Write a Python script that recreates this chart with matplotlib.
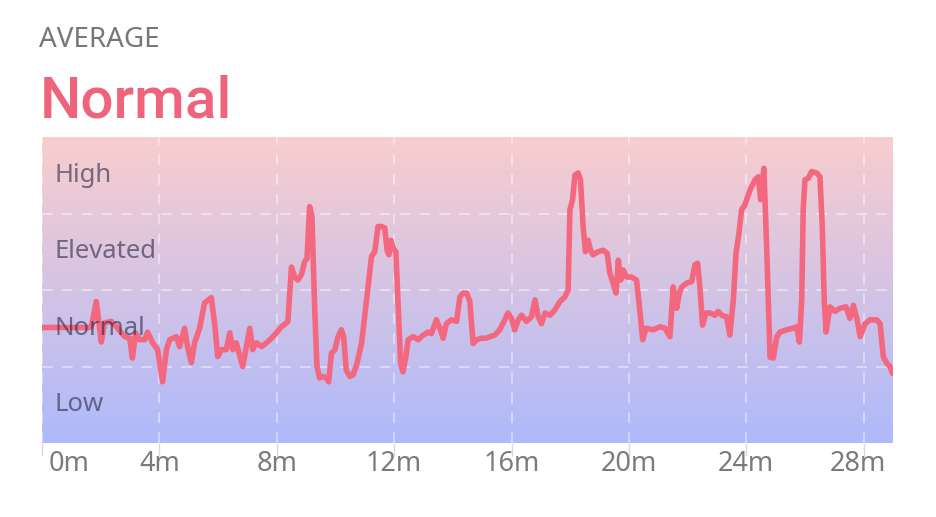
import numpy as np
import matplotlib
matplotlib.use("Agg")
import matplotlib.pyplot as plt
from matplotlib.transforms import ScaledTranslation

# ---- data ----
minutes = [0, 1.62, 1.68, 1.85, 2.02, 2.13, 2.36, 2.58, 2.82, 2.99,
           3.08, 3.19, 3.33, 3.50, 3.60, 3.77, 3.94, 4.11, 4.24, 4.35,
           4.58, 4.69, 4.86, 4.96, 5.09, 5.20, 5.37, 5.54, 5.77, 5.88,
           5.99, 6.11, 6.28, 6.40, 6.50, 6.62, 6.84, 7.08, 7.18, 7.31,
           7.48, 7.65, 7.82, 7.99, 8.16, 8.33, 8.38, 8.50, 8.61, 8.72,
           8.84, 8.95, 9.03, 9.12, 9.20, 9.29, 9.37, 9.46, 9.58, 9.69,
           9.77, 9.86, 9.98, 10.09, 10.20, 10.28, 10.37, 10.49, 10.60, 10.72,
           10.89, 11.06, 11.23, 11.34, 11.45, 11.57, 11.68, 11.76, 11.82, 11.89,
           11.96, 12.06, 12.13, 12.22, 12.30, 12.40, 12.48, 12.65, 12.82, 12.99,
           13.16, 13.27, 13.44, 13.56, 13.67, 13.78, 13.95, 14.13, 14.24, 14.35,
           14.47, 14.58, 14.69, 14.81, 14.98, 15.15, 15.26, 15.43, 15.60, 15.77,
           15.88, 16.00, 16.11, 16.23, 16.34, 16.51, 16.62, 16.68, 16.80, 16.91,
           17.02, 17.14, 17.31, 17.48, 17.65, 17.82, 17.93, 17.99, 18.08, 18.16,
           18.27, 18.35, 18.44, 18.52, 18.61, 18.69, 18.78, 18.95, 19.12, 19.26,
           19.35, 19.46, 19.56, 19.64, 19.72, 19.81, 19.92, 20.09, 20.26, 20.37,
           20.47, 20.58, 20.83, 21.06, 21.23, 21.40, 21.51, 21.63, 21.72, 21.80,
           21.97, 22.14, 22.25, 22.34, 22.42, 22.51, 22.63, 22.76, 22.93, 23.04,
           23.16, 23.33, 23.44, 23.56, 23.65, 23.75, 23.84, 23.95, 24.13, 24.30,
           24.41, 24.49, 24.60, 24.69, 24.81, 24.92, 25.04, 25.15, 25.38, 25.60,
           25.72, 25.81, 25.89, 25.94, 26.00, 26.11, 26.23, 26.40, 26.51, 26.59,
           26.66, 26.72, 26.85, 27.02, 27.19, 27.40, 27.53, 27.65, 27.78, 27.88,
           28.05, 28.22, 28.45, 28.56, 28.67, 28.79, 28.90, 28.98]

stress_level = [1.51, 1.51, 1.52, 1.85, 1.32, 1.57, 1.59, 1.50, 1.39, 1.37,
                1.11, 1.44, 1.35, 1.35, 1.45, 1.31, 1.22, 0.80, 1.22, 1.35,
                1.39, 1.26, 1.50, 1.26, 1.05, 1.31, 1.50, 1.83, 1.90, 1.57,
                1.13, 1.22, 1.22, 1.44, 1.22, 1.31, 1.00, 1.50, 1.22, 1.31,
                1.26, 1.31, 1.37, 1.44, 1.52, 1.57, 1.59, 2.30, 2.17, 2.13,
                2.20, 2.37, 2.41, 3.09, 2.96, 1.78, 1.00, 0.85, 0.87, 0.85,
                0.80, 1.17, 1.22, 1.39, 1.48, 1.39, 0.95, 0.87, 0.89, 1.02,
                1.30, 1.87, 2.44, 2.50, 2.83, 2.83, 2.81, 2.52, 2.46, 2.65,
                2.55, 2.50, 1.87, 1.04, 0.93, 1.13, 1.35, 1.39, 1.35, 1.41,
                1.45, 1.43, 1.61, 1.50, 1.37, 1.56, 1.61, 1.59, 1.91, 1.96,
                1.96, 1.85, 1.30, 1.35, 1.37, 1.37, 1.39, 1.41, 1.48, 1.61,
                1.70, 1.63, 1.48, 1.61, 1.67, 1.59, 1.63, 1.65, 1.87, 1.65,
                1.56, 1.70, 1.67, 1.74, 1.85, 1.91, 2.00, 3.05, 3.18, 3.50,
                3.53, 3.44, 2.83, 2.50, 2.65, 2.52, 2.46, 2.50, 2.52, 2.48,
                2.22, 2.09, 1.96, 2.39, 2.13, 2.26, 2.17, 2.17, 2.13, 1.74,
                1.35, 1.50, 1.48, 1.52, 1.50, 1.39, 2.04, 1.76, 1.96, 2.04,
                2.09, 2.11, 2.33, 2.35, 2.04, 1.54, 1.70, 1.70, 1.67, 1.72,
                1.67, 1.65, 1.41, 1.87, 2.48, 2.74, 3.05, 3.11, 3.31, 3.44,
                3.48, 3.18, 3.59, 2.61, 1.12, 1.11, 1.39, 1.45, 1.48, 1.50,
                1.52, 1.32, 1.87, 3.05, 3.44, 3.46, 3.55, 3.53, 3.48, 2.83,
                1.83, 1.45, 1.78, 1.72, 1.76, 1.78, 1.63, 1.80, 1.61, 1.39,
                1.56, 1.61, 1.61, 1.56, 1.13, 1.04, 1.00, 0.91]

level_names = ["Low", "Normal", "Elevated", "High"]
level_centers = [0.5, 1.5, 2.5, 3.5]
band_edges = [1, 2, 3]
x_ticks = [0, 4, 8, 12, 16, 20, 24, 28]
x_tick_labels = ["0m", "4m", "8m", "12m", "16m", "20m", "24m", "28m"]
x_max = 29.0
title_small = "AVERAGE"
title_big = "Normal"

FONT = ["Noto Sans", "DejaVu Sans"]
BOLD_FONT = ["Roboto", "DejaVu Sans"]

# ---- figure ----
W, H = 936, 517
fig = plt.figure(figsize=(W / 100, H / 100), dpi=100)
fig.patch.set_facecolor("white")
ax = fig.add_axes([42 / W, 1 - 443 / H, (893 - 42) / W, (443 - 137) / H])

# gradient background
top = np.array([249, 205, 206]) / 255
bot = np.array([174, 186, 251]) / 255
n = 256
f = np.linspace(0, 1, n)[:, None]
grad = (top[None, :] * (1 - f) + bot[None, :] * f)[:, None, :]
ax.imshow(grad, extent=[0, x_max, 0, 4], aspect="auto", zorder=0,
          interpolation="bilinear")

ax.set_xlim(0, x_max)
ax.set_ylim(0, 4)

for e in band_edges:
    ax.axhline(e, color="white", lw=1.1, alpha=0.55, dashes=(7, 6), zorder=1)
for xt in x_ticks:
    ax.axvline(xt, color="white", lw=1.1, alpha=0.55, dashes=(7, 6), zorder=1)

ax.plot(minutes, stress_level, color="#f3677f", lw=4.0,
        solid_joinstyle="round", solid_capstyle="round", zorder=3)

for name, c in zip(level_names, level_centers):
    ax.text(0.43, c, name, fontsize=18.5, family=FONT,
            color="#2e2b48", alpha=0.62, va="center", ha="left", zorder=4)

for s in ax.spines.values():
    s.set_visible(False)
ax.set_yticks([])
ax.set_xticks(x_ticks)
ax.set_xticklabels(x_tick_labels)
ax.tick_params(axis="x", direction="out", length=9, width=1,
               color="#d9d9d9", pad=-4, labelsize=19.5, labelcolor="#7b7b7b")
for lab in ax.get_xticklabels():
    lab.set_family(FONT)
labs = ax.get_xticklabels()
labs[0].set_ha("left")
labs[0].set_transform(labs[0].get_transform() + ScaledTranslation(7 / 100, 0, fig.dpi_scale_trans))
labs[-1].set_transform(labs[-1].get_transform() + ScaledTranslation(-6 / 100, 0, fig.dpi_scale_trans))

fig.text(39 / W, 1 - 47 / H, title_small, fontsize=20, color="#777777",
         family=FONT, ha="left", va="baseline")
fig.text(40 / W, 1 - 117 / H, title_big, fontsize=42, color="#f0637d",
         family=BOLD_FONT, weight="medium", ha="left", va="baseline")

fig.savefig("out.png", dpi=100, facecolor="white")
